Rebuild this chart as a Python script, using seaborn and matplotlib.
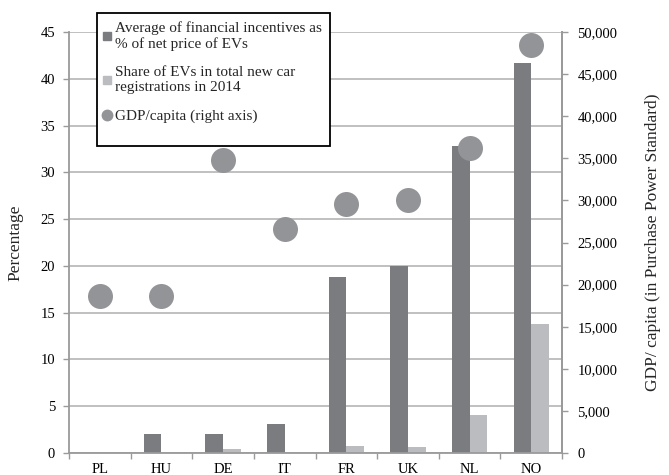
import numpy as np
import pandas as pd
import matplotlib
matplotlib.use("Agg")
import matplotlib.pyplot as plt
import seaborn as sns
from matplotlib.lines import Line2D
from matplotlib.patches import Rectangle
from matplotlib.ticker import FuncFormatter, MultipleLocator

countries = ["PL", "HU", "DE", "IT", "FR", "UK", "NL", "NO"]
incentives = [0.0, 2.0, 2.0, 3.05, 18.8, 20.0, 32.8, 41.7]
ev_share = [0.0, 0.0, 0.4, 0.1, 0.75, 0.6, 4.1, 13.8]
gdp = [18700, 18600, 34800, 26600, 29600, 30000, 36200, 48400]

lab_inc = "Average of financial incentives as\n% of net price of EVs"
lab_share = "Share of EVs in total new car\nregistrations in 2014"
lab_gdp = "GDP/capita (right axis)"

dark = "#7b7c80"
light = "#bbbcbf"
dotc = "#939497"
gridc = "#b5b5b5"
axc = "#9a9a9a"

sns.set_theme(style="white")
plt.rcParams["font.family"] = ["Liberation Serif", "DejaVu Serif"]
plt.rcParams["font.size"] = 10.5

df = pd.DataFrame({
    "country": countries * 2,
    "value": incentives + ev_share,
    "series": [lab_inc] * len(countries) + [lab_share] * len(countries),
})

W, H = 669, 475
fig = plt.figure(figsize=(W / 100, H / 100), dpi=100)
ax = fig.add_axes([69 / W, 1 - 453 / H, (562 - 69) / W, (453 - 32) / H])

sns.barplot(data=df, x="country", y="value", hue="series", order=countries,
            hue_order=[lab_inc, lab_share], palette=[dark, light], width=0.57,
            saturation=1, ax=ax, legend=False, edgecolor="none", linewidth=0)
ax.set_ylim(0, 45)
ax.set_xlim(-0.5, 7.5)
ax.yaxis.set_major_locator(MultipleLocator(5))
ax.grid(axis="y", color=gridc, linewidth=1.2)
ax.set_axisbelow(True)
ax.set_xlabel("")
ax.set_ylabel("Percentage", fontsize=12.5, labelpad=12)
ax.spines["top"].set_visible(False)
for s in ["left", "bottom", "right"]:
    ax.spines[s].set_color(axc)
    ax.spines[s].set_linewidth(1.3)
ax.set_xticks(np.arange(-0.5, 8, 1), minor=True)
ax.tick_params(axis="x", which="major", length=0, pad=7, labelsize=10.5, colors="black")
ax.tick_params(axis="x", which="minor", length=4, color=axc, width=1, direction="out", bottom=True)
ax.tick_params(axis="y", length=4, color=axc, width=1, direction="out", labelsize=10.5,
               pad=6, left=True, labelcolor="black")

ax2 = ax.twinx()
sns.pointplot(x=countries, y=gdp, order=countries, ax=ax2, color=dotc,
              linestyle="none", markersize=18, markeredgewidth=0, errorbar=None)
ax2.set_ylim(0, 50000)
ax2.set_xlim(-0.5, 7.5)
ax2.yaxis.set_major_locator(MultipleLocator(5000))
ax2.yaxis.set_major_formatter(FuncFormatter(lambda v, p: f"{int(v):,}"))
ax2.tick_params(axis="y", length=4, color=axc, width=1, direction="out", labelsize=10.5,
                pad=7, right=True, labelcolor="black")
ax2.set_ylabel("GDP/ capita (in Purchase Power Standard)", fontsize=12.5, labelpad=20)
ax2.grid(False)
for s in ["top", "left", "bottom"]:
    ax2.spines[s].set_visible(False)
ax2.spines["right"].set_color(axc)
ax2.spines["right"].set_linewidth(1.3)

handles = [
    Line2D([], [], marker="s", linestyle="none", color=dark, markersize=6),
    Line2D([], [], marker="s", linestyle="none", color=light, markersize=6),
    Line2D([], [], marker="o", linestyle="none", color=dotc, markersize=7.5),
]
leg = fig.legend(handles, [lab_inc, lab_share, lab_gdp], loc="upper left",
                 bbox_to_anchor=(103 / W, 1 - 21 / H), frameon=False,
                 fontsize=11, handlelength=0.55, handletextpad=0.25,
                 labelspacing=1.0, borderpad=0, borderaxespad=0)
fig.patches.append(Rectangle((97 / W, 1 - 146 / H), (330 - 97) / W, (146 - 13) / H,
                             transform=fig.transFigure, fill=True, facecolor="white",
                             edgecolor="black", linewidth=1.3, zorder=4))
leg.set_zorder(5)

fig.savefig("out.png", dpi=100)
